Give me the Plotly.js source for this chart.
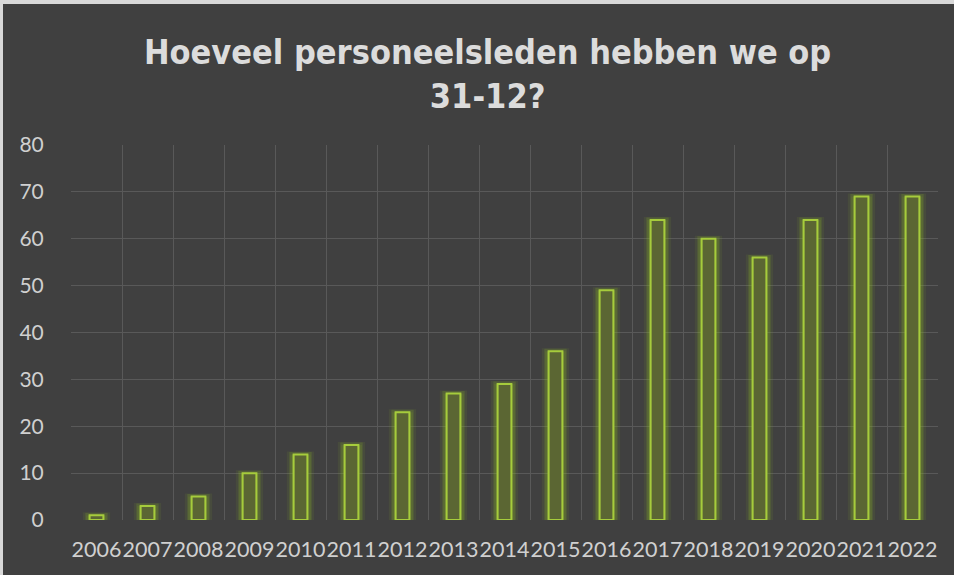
<!DOCTYPE html>
<html><head><meta charset="utf-8">
<script src="https://cdn.plot.ly/plotly-3.0.1.min.js"></script>
<style>
html,body{margin:0;padding:0;background:#d9d9d9;width:954px;height:575px;overflow:hidden;}
#chart{position:absolute;left:3px;top:4px;width:951px;height:571px;}
</style></head>
<body><div id="chart"></div>
<script>
const years = ['2006','2007','2008','2009','2010','2011','2012','2013','2014','2015','2016','2017','2018','2019','2020','2021','2022'];
const staff = [1,3,5,10,14,16,23,27,29,36,49,64,60,56,64,69,69];
const yTicks = [0,10,20,30,40,50,60,70,80];

const glowOuter = {
  type:'bar', x:years, y:staff, width:0.42,
  marker:{color:'rgba(140,180,40,0.10)', line:{color:'rgba(140,180,40,0.10)', width:6}},
  hoverinfo:'skip', showlegend:false
};
const glow = {
  type:'bar', x:years, y:staff, width:0.34,
  marker:{color:'rgba(140,180,40,0.22)', line:{color:'rgba(140,180,40,0.20)', width:5}},
  hoverinfo:'skip', showlegend:false
};
const bars = {
  type:'bar', x:years, y:staff, width:0.27,
  marker:{color:'#5b6633', line:{color:'#a6cc3c', width:2}},
  showlegend:false
};
const layout = {
  width:951, height:571,
  paper_bgcolor:'#404040', plot_bgcolor:'#404040',
  margin:{l:68,r:16,t:141,b:55},
  barmode:'overlay',
  annotations:[{text:'<b>Hoeveel personeelsleden hebben we op<br>31-12?</b>', xref:'paper', yref:'paper', x:0.48, y:1.19,
    xanchor:'center', yanchor:'middle', showarrow:false, align:'center',
    font:{family:'DejaVu Sans Condensed, DejaVu Sans', size:34, color:'#dcdcdc'}}],
  xaxis:{type:'category', tickson:'boundaries', showgrid:true, gridcolor:'#595959', gridwidth:1, tickangle:0,
    ticks:'', ticklabelstandoff:14, showline:false, zeroline:false,
    tickfont:{family:'Lato, sans-serif', size:21.5, color:'#d0d0d0'}},
  yaxis:{range:[0,80], tickvals:yTicks, showgrid:true, gridcolor:'#595959', gridwidth:1, zeroline:false,
    ticks:'outside', ticklen:22, tickcolor:'rgba(0,0,0,0)',
    tickfont:{family:'Lato, sans-serif', size:21, color:'#d0d0d0'}},
  bargap:0
};
Plotly.newPlot('chart',[glowOuter,glow,bars],layout,{displayModeBar:false,staticPlot:true});
</script></body></html>
